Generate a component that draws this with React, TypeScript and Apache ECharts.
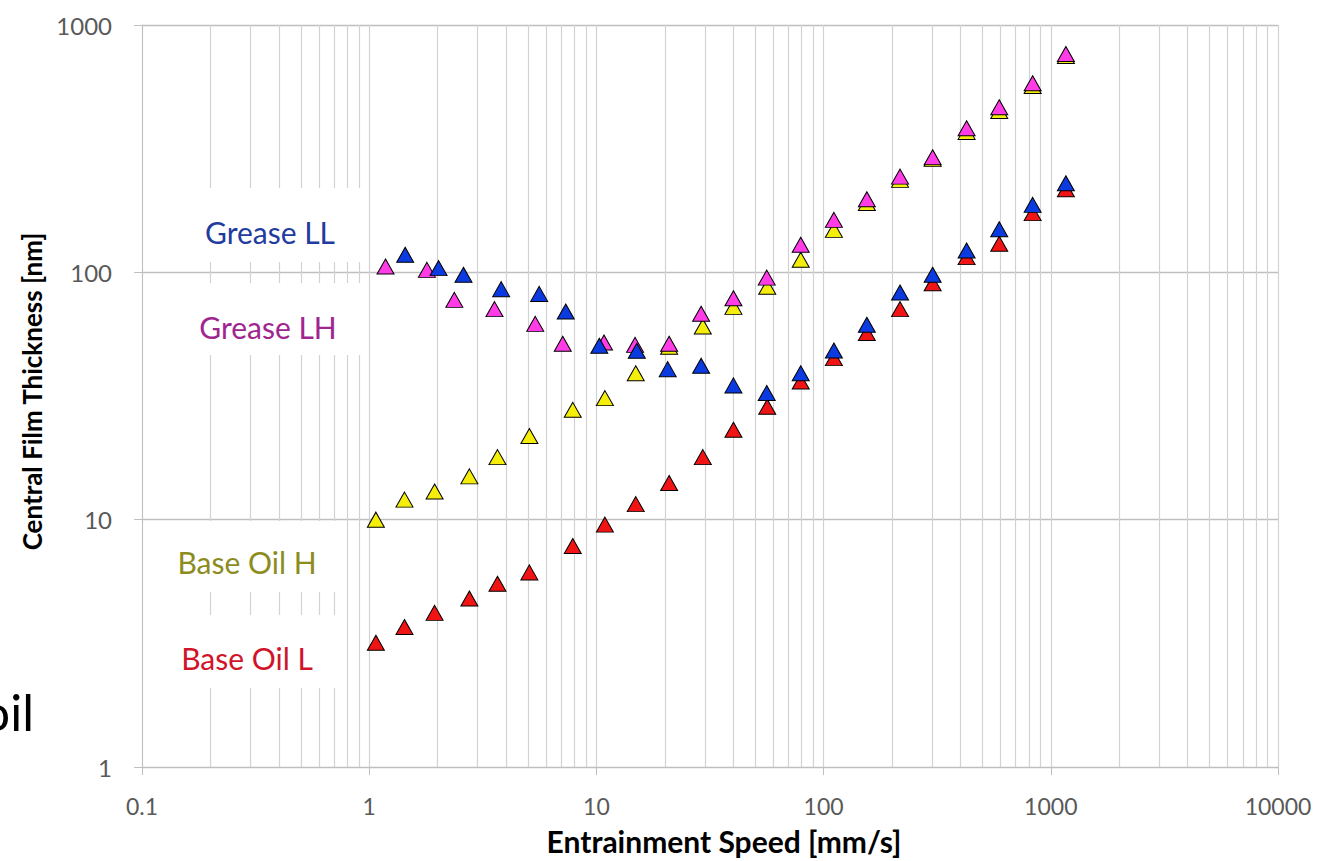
import React, { useEffect, useRef } from "react";
import * as echarts from "echarts";

// ---- data ----
const seriesNames = ["Base Oil L", "Base Oil H", "Grease LH", "Grease LL"];

const baseOilSpeed = [1.07, 1.43, 1.94, 2.76, 3.67, 5.07, 7.87, 10.9, 14.9, 20.9, 29.4, 40.1, 56.5, 79.3, 111, 155, 217, 302, 426, 593, 832, 1165];
const baseOilL = [3.18, 3.68, 4.2, 4.8, 5.51, 6.12, 7.83, 9.55, 11.56, 14.07, 17.9, 23.1, 28.6, 36.2, 45.0, 56.8, 71.0, 90.4, 115.2, 130.4, 173.5, 216.9];
const baseOilH = [10, 12.05, 13.0, 14.96, 17.9, 21.8, 27.8, 31.0, 39.1, 50, 60.4, 72.5, 87.4, 112.4, 148.5, 190.8, 236.5, 287.5, 369.6, 449.3, 567, 749.5];

const greaseLHSpeed = [1.18, 1.795, 2.37, 3.56, 5.38, 7.11, 10.8, 14.8, 20.9, 28.9, 40.1, 56.2, 79.3, 111, 155, 217, 302, 426, 593, 832, 1165];
const greaseLH = [105.5, 102.3, 77.4, 71.0, 61.9, 51.4, 52.0, 50.9, 51.4, 68.0, 78.6, 95.2, 129.2, 163, 197.6, 243.8, 292, 382.4, 465, 581, 763];

const greaseLLSpeed = [1.44, 2.02, 2.6, 3.81, 5.6, 7.33, 10.3, 15.06, 20.6, 28.9, 40.1, 56.2, 79.3, 111, 155, 217, 302, 426, 593, 832, 1165];
const greaseLL = [117.7, 104, 97.7, 85.5, 81.8, 69.4, 50.5, 48.2, 40.6, 41.9, 34.9, 32.5, 39.1, 48.3, 61.4, 82.9, 97.7, 122.5, 149.4, 187.4, 229.3];

const xMin = 0.1;
const xMax = 10000;
const yMin = 1;
const yMax = 1000;
const minorMultipliers = [2, 3, 4, 5, 6, 7, 8, 9];
const minorDecades = [0.1, 1, 10, 100, 1000];

const xTitle = "Entrainment Speed [mm/s]";
const yTitle = "Central Film Thickness [nm]";
const sideText = "oil";

const colors = ["#f01414", "#f5ee0a", "#ff3ce6", "#0b3be0"];
const labelColors = ["#d0142a", "#8c8c1e", "#a0268f", "#1f3c9e"];

const fmt = (v: number) => String(parseFloat(Number(v).toPrecision(6)));

export default function App() {
  const ref = useRef<HTMLDivElement>(null);

  useEffect(() => {
    if (!ref.current) return;
    const chart = echarts.init(ref.current, null, { renderer: "svg" });

    const minorX: number[] = [];
    minorDecades.forEach((d) => minorMultipliers.forEach((m) => minorX.push(parseFloat((d * m).toPrecision(6)))));

    const pairs = (xs: number[], ys: number[]) => xs.map((x, i) => [x, ys[i]]);
    const dataSets = [
      pairs(baseOilSpeed, baseOilL),
      pairs(baseOilSpeed, baseOilH),
      pairs(greaseLHSpeed, greaseLH),
      pairs(greaseLLSpeed, greaseLL),
    ];

    const series: any[] = dataSets.map((d, i) => ({
      name: seriesNames[i],
      type: "scatter",
      data: d,
      symbol: "triangle",
      symbolSize: [17, 15],
      z: 5,
      itemStyle: { color: colors[i], borderColor: "#000000", borderWidth: 1, opacity: 1 },
      emphasis: { disabled: true },
    }));
    series[0].markLine = {
      silent: true,
      z: 1,
      symbol: ["none", "none"],
      label: { show: false },
      emphasis: { disabled: true },
      lineStyle: { color: "#d2d2d2", width: 1.2, type: "solid" },
      data: minorX.map((v) => ({ xAxis: v })),
    };

    // white label boxes (cover gridlines) and label texts
    const boxes = [
      { x: 150, y: 188, w: 215, h: 74 },
      { x: 150, y: 283, w: 215, h: 72 },
      { x: 150, y: 521, w: 190, h: 71 },
      { x: 150, y: 615, w: 190, h: 73 },
    ];
    const labelPos = [
      { x: 247, y: 658 },
      { x: 247, y: 562 },
      { x: 268, y: 327 },
      { x: 270, y: 232 },
    ];

    const graphicEls: any[] = [];
    boxes.forEach((b) =>
      graphicEls.push({
        type: "rect",
        silent: true,
        z: 3,
        shape: { x: b.x, y: b.y, width: b.w, height: b.h },
        style: { fill: "#ffffff" },
      })
    );
    labelPos.forEach((p, i) =>
      graphicEls.push({
        type: "text",
        silent: true,
        z: 6,
        x: p.x,
        y: p.y,
        style: {
          text: seriesNames[i],
          fill: labelColors[i],
          fontFamily: "Lato",
          fontSize: 30,
          align: "center",
          verticalAlign: "middle",
        },
      })
    );
    graphicEls.push({
      type: "text",
      silent: true,
      z: 6,
      x: 34,
      y: 712,
      style: {
        text: sideText,
        fill: "#000000",
        fontFamily: "Lato",
        fontSize: 50,
        align: "right",
        verticalAlign: "middle",
      },
    });

    chart.setOption({
      animation: false,
      backgroundColor: "#ffffff",
      grid: { left: 142, right: 42, top: 25, bottom: 94, containLabel: false },
      xAxis: {
        type: "log",
        logBase: 10,
        min: xMin,
        max: xMax,
        name: xTitle,
        nameLocation: "middle",
        nameGap: 59,
        nameTextStyle: {
          fontFamily: "Lato",
          fontWeight: "bold",
          fontSize: 30,
          color: "#000000",
          padding: [0, 0, 0, 28],
        },
        axisLine: { show: true, onZero: false, lineStyle: { color: "#bfbfbf", width: 1 } },
        axisTick: { show: true, length: 8, inside: false, lineStyle: { color: "#bfbfbf" } },
        axisLabel: { margin: 27, fontFamily: "Lato", fontSize: 23, color: "#595959", formatter: fmt },
        splitLine: { show: true, lineStyle: { color: "#d2d2d2", width: 1.2 } },
        minorTick: { show: false },
        minorSplitLine: { show: false },
      },
      yAxis: {
        type: "log",
        logBase: 10,
        min: yMin,
        max: yMax,
        name: yTitle,
        nameLocation: "middle",
        nameGap: 97,
        nameTextStyle: {
          fontFamily: "Lato",
          fontWeight: "bold",
          fontSize: 26,
          color: "#000000",
          padding: [0, 0, 0, 9],
        },
        axisLine: { show: true, onZero: false, lineStyle: { color: "#bfbfbf", width: 1 } },
        axisTick: { show: true, length: 8, inside: false, lineStyle: { color: "#bfbfbf" } },
        axisLabel: { margin: 30, fontFamily: "Lato", fontSize: 24, color: "#595959", formatter: fmt },
        splitLine: { show: true, lineStyle: { color: "#bfbfbf", width: 1.3 } },
        minorTick: { show: false },
        minorSplitLine: { show: false },
      },
      graphic: { elements: graphicEls },
      series,
    });

    return () => chart.dispose();
  }, []);

  return (
    <div
      ref={ref}
      style={{ position: "absolute", left: 0, top: 0, width: 1320, height: 861, background: "#ffffff" }}
    />
  );
}
